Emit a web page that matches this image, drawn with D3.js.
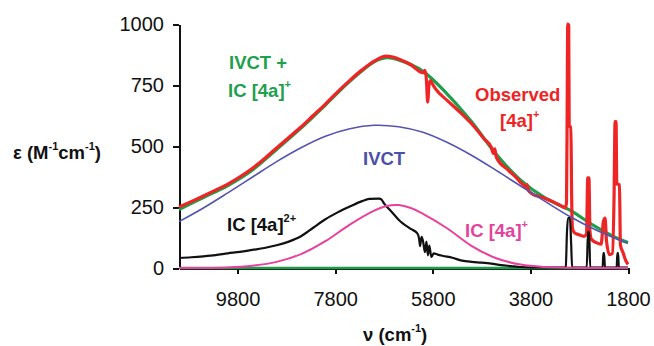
<!DOCTYPE html>
<html lang="en">
<head>
<meta charset="UTF-8">
<title>IVCT band deconvolution</title>
<script src="https://d3js.org/d3.v7.min.js"></script>
<style>
    body { margin: 0; background: #fff; }
    svg { font-family: "Liberation Sans", Arial, sans-serif; }
    .axis path, .axis line { stroke: #111; stroke-width: 2px; shape-rendering: crispEdges; }
    .axis text { font-size: 20px; fill: #111; }
    .curve { fill: none; stroke-linejoin: round; }
    .lbl { font-size: 18.5px; font-weight: bold; }
</style>
</head>
<body>
<svg id="chart" width="654" height="346"></svg>
<script>
// wavenumber (cm-1) and epsilon (M-1 cm-1)
var xTicks = [9800, 7800, 5800, 3800, 1800];
var yTicks = [0, 250, 500, 750, 1000];

var observed = [
    [11000, 250], [10750, 272], [10500, 295], [10250, 319], [10000, 344],
    [9750, 374], [9500, 408], [9250, 448], [9000, 492], [8750, 535],
    [8500, 578], [8250, 625], [8000, 672], [7750, 722], [7500, 769],
    [7250, 812], [7000, 848], [6750, 868], [6500, 857], [6250, 833],
    [6000, 800], [5960, 810], [5930, 770], [5905, 680], [5880, 745],
    [5850, 768], [5800, 752], [5750, 736], [5500, 686], [5250, 640],
    [5000, 590], [4750, 530], [4600, 494], [4560, 470], [4530, 488],
    [4500, 455], [4250, 400], [4050, 362], [4000, 350], [3960, 344],
    [3900, 330], [3870, 342], [3840, 318], [3750, 302], [3600, 292],
    [3500, 285], [3300, 268], [3150, 252], [3080, 246], [3060, 270],
    [3045, 700], [3035, 1000], [3015, 995], [3005, 580], [2970, 578],
    [2955, 300], [2940, 165], [2900, 145], [2800, 136], [2700, 130],
    [2650, 140], [2625, 369], [2600, 369], [2580, 150], [2550, 118],
    [2450, 104], [2350, 98], [2305, 190], [2270, 205], [2240, 110],
    [2180, 55], [2120, 60], [2085, 300], [2065, 600], [2045, 600],
    [2030, 345], [1975, 340], [1955, 94], [1900, 62], [1850, 32], [1800, 15]
];

var ivctPlusIc = [
    [11000, 240], [10500, 289], [10000, 338], [9500, 401], [9000, 486],
    [8500, 573], [8000, 668], [7500, 765], [7000, 845], [6750, 862],
    [6500, 853], [6000, 806], [5500, 712], [5000, 598], [4500, 466],
    [4000, 360], [3500, 287], [3000, 238], [2500, 174], [2000, 120], [1800, 104]
];

var ivct = [
    [11000, 190], [10500, 246], [10000, 308], [9500, 372], [9000, 436],
    [8500, 493], [8000, 540], [7500, 571], [7000, 585], [6500, 579],
    [6000, 556], [5500, 514], [5000, 461], [4500, 400], [4000, 336],
    [3500, 273], [3000, 212], [2500, 160], [2000, 117], [1800, 102]
];

var ic4a2 = [
    [11000, 41], [10750, 44], [10500, 48], [10250, 53], [10000, 60],
    [9750, 66], [9500, 74], [9250, 82], [9000, 93], [8750, 108],
    [8500, 130], [8250, 165], [8000, 200], [7750, 228], [7500, 252],
    [7250, 274], [7100, 283], [6900, 284], [6850, 280], [6800, 265],
    [6650, 232], [6500, 198], [6250, 160], [6120, 143], [6080, 120],
    [6060, 90], [6030, 128], [6000, 110], [5960, 65], [5930, 108],
    [5900, 52], [5870, 92], [5830, 45], [5780, 60], [5700, 55],
    [5600, 50], [5400, 42], [5200, 30], [5000, 25], [4800, 22],
    [4600, 18], [4400, 12], [4200, 8], [4000, 4], [3800, 2],
    [3100, 2], [3075, 6], [3050, 150], [3030, 205], [2990, 205],
    [2965, 100], [2945, 3], [2645, 2], [2620, 148], [2595, 148],
    [2575, 2], [2320, 2], [2305, 61], [2290, 61], [2272, 2],
    [2032, 2], [2018, 61], [2002, 61], [1988, 2], [1800, 2]
];

var ic4a1 = [
    [11000, 0], [10500, 0], [10000, 2], [9500, 9], [9000, 25],
    [8500, 57], [8000, 110], [7500, 178], [7000, 235], [6750, 254],
    [6500, 258], [6250, 246], [6000, 222], [5500, 162], [5000, 90],
    [4500, 40], [4000, 14], [3500, 4], [3000, 1], [2500, 0], [1800, 0]
];

var zeroLine = [[11000, 0], [1800, 0]];

var svg = d3.select("#chart");

var x = d3.scaleLinear().domain([11000, 1800]).range([179, 628]);
var y = d3.scaleLinear().domain([0, 1000]).range([268, 24]);

// measured traces keep their spikes, fitted bands are drawn smooth
var rough = d3.line()
    .x(function(d) { return x(d[0]); })
    .y(function(d) { return y(d[1]); })
    .curve(d3.curveMonotoneX);

var smooth = d3.line()
    .x(function(d) { return x(d[0]); })
    .y(function(d) { return y(d[1]); })
    .curve(d3.curveCatmullRom.alpha(0.5));

// axes
svg.append("g")
    .attr("class", "axis")
    .attr("transform", "translate(0,268)")
    .call(d3.axisBottom(x).tickValues(xTicks).tickFormat(d3.format("d"))
        .tickSize(6).tickSizeOuter(0).tickPadding(18));

svg.append("g")
    .attr("class", "axis")
    .attr("transform", "translate(179,0)")
    .call(d3.axisLeft(y).tickValues(yTicks).tickFormat(d3.format("d"))
        .tickSize(6).tickSizeOuter(0).tickPadding(9));

svg.selectAll(".axis text").attr("font-family", null);

// curves, back to front
function draw(data, gen, color, width) {
    svg.append("path")
        .datum(data)
        .attr("class", "curve")
        .attr("stroke", color)
        .attr("stroke-width", width)
        .attr("d", gen);
}

draw(zeroLine, smooth, "#1f9a4a", 2.5);
draw(ivctPlusIc, smooth, "#1f9e4b", 3.2);
draw(observed, rough, "#ef2424", 3.2);
draw(ivct, smooth, "#5454b0", 1.6);
draw(ic4a2, rough, "#111", 2.2);
draw(ic4a1, smooth, "#e8409c", 2);

// series labels
function label(px, py, color, parts, anchor) {
    var t = svg.append("text")
        .attr("class", "lbl")
        .attr("x", px)
        .attr("y", py)
        .attr("fill", color)
        .attr("text-anchor", anchor || "start");
    parts.forEach(function(p) {
        var s = t.append("tspan").text(p[0]);
        if (p[1]) s.attr("font-size", "11px").attr("baseline-shift", "85%");
    });
}

label(229, 69, "#20a04d", [["IVCT +"]]);
label(228, 97, "#20a04d", [["IC [4a]"], ["+", true]]);
label(475, 101, "#ee2424", [["Observed"]]);
label(500, 127, "#ee2424", [["[4a]"], ["+", true]]);
label(363, 165, "#4b50a8", [["IVCT"]]);
label(227, 231, "#111", [["IC [4a]"], ["2+", true]]);
label(465, 237, "#e2449c", [["IC [4a]"], ["+", true]]);

// axis titles
label(13, 159, "#111", [["ε (M"], ["-1", true], ["cm"], ["-1", true], [")"]]);
label(363, 341, "#111", [["ν (cm"], ["-1", true], [")"]]);
</script>
</body>
</html>
